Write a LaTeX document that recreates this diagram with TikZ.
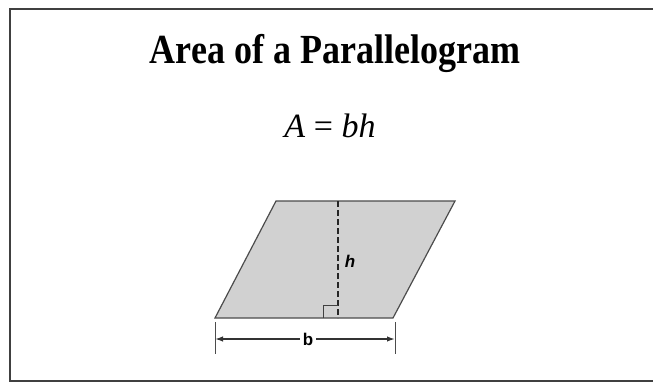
\documentclass[tikz,border=0pt]{standalone}
\usepackage{fontspec}
\setmainfont{Liberation Serif}
\newfontfamily\labelfont{Liberation Sans}
\usetikzlibrary{arrows.meta, positioning}

\begin{document}
\begin{tikzpicture}[x=1pt, y=-1pt,
    frame/.style={draw=black!75, line width=1.8pt},
    parashape/.style={draw=black!70, fill=black!18, line width=1.2pt},
    height/.style={draw=black!85, line width=1.8pt, dash pattern=on 6pt off 3pt},
    dimarrow/.style={draw=black!80, line width=1.5pt, -{Latex[length=8pt, width=5.5pt]}},
    tickline/.style={draw=black!70, line width=1pt},
    lbl/.style={font=\labelfont\bfseries\fontsize{17}{17}\selectfont, inner sep=1pt}]
    \useasboundingbox (0,0) rectangle (653,383);

    % frame
    \coordinate (ftr) at (653,9);
    \coordinate (ftl) at (10,9);
    \coordinate (fbl) at (10,381);
    \coordinate (fbr) at (653,381);
    \draw[frame] (ftr) -- (ftl) -- (fbl) -- (fbr);

    \node[font=\bfseries\fontsize{36}{36}\selectfont, yscale=1.15, transform shape] (title) at (335,53) {Area of a Parallelogram};
    \node[font=\fontsize{34}{34}\selectfont] (formula) at (330,126) {\textit{A} = \textit{bh}};

    % parallelogram
    \coordinate (bl) at (215,318);
    \coordinate (br) at (393,318);
    \coordinate (tr) at (455,201);
    \coordinate (tl) at (276,201);
    \draw[parashape] (bl) -- (br) -- (tr) -- (tl) -- cycle;

    \coordinate (htop) at (338,201);
    \coordinate (hbot) at (338,318);
    \draw[height] (htop) -- (hbot);
    \draw[draw=black!75, line width=1pt] (323,318) |- (338,305);
    \node[lbl, font=\labelfont\bfseries\itshape\fontsize{17}{17}\selectfont] (h) at (350,261) {h};

    % base
    \coordinate (tickl) at (215,339);
    \coordinate (tickr) at (395,339);
    \draw[tickline] (215,322) -- (215,354);
    \draw[tickline] (395,322) -- (395,354);
    \node[lbl, inner sep=3pt] (b) at (308,339) {b};
    \draw[dimarrow] (b.west) -- (tickl);
    \draw[dimarrow] (b.east) -- (tickr);
\end{tikzpicture}
\end{document}
